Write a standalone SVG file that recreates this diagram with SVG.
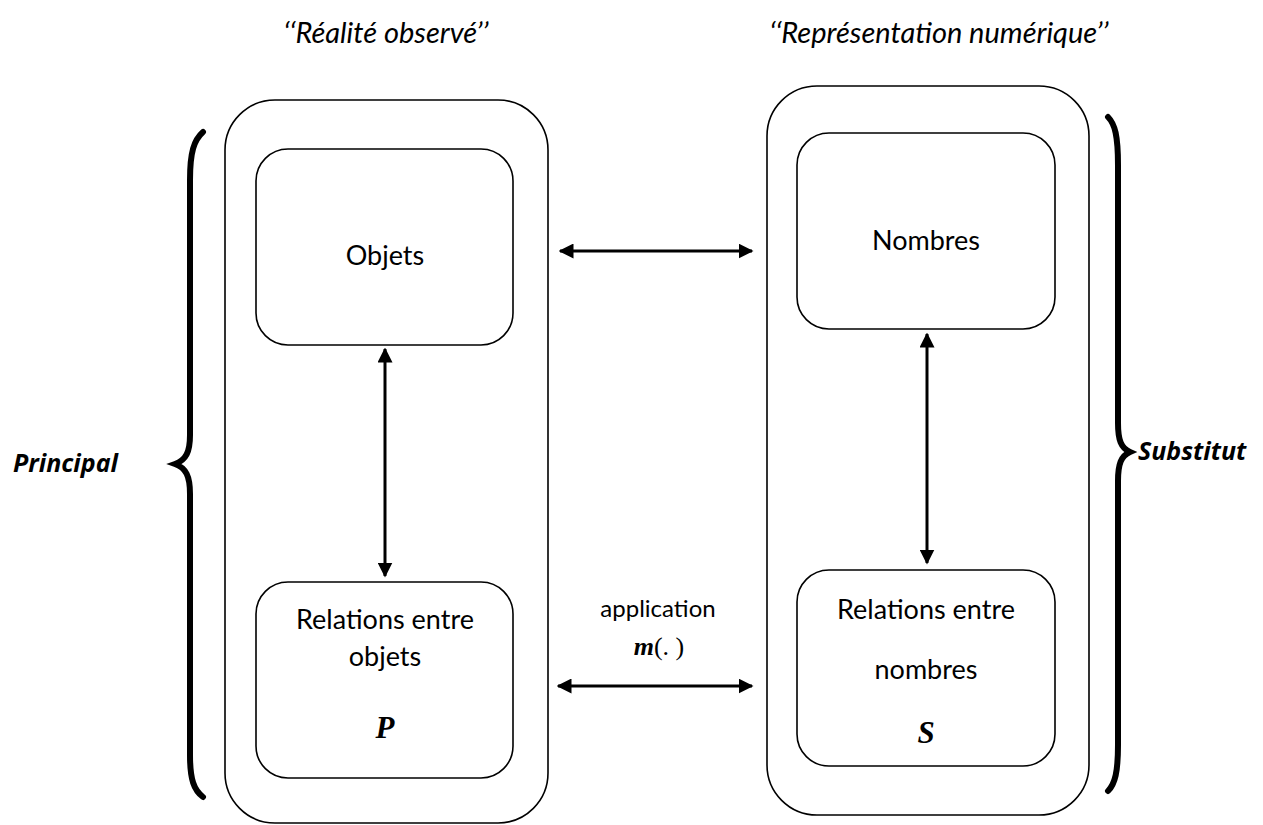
<svg xmlns="http://www.w3.org/2000/svg" width="1263" height="825" viewBox="0 0 1263 825">
<style>
.box{fill:none;stroke:#000;stroke-width:1.6}
.t{font-family:Lato,"Open Sans",sans-serif;font-size:27px;fill:#000;text-anchor:middle}
.hi{font-family:Lato,"Open Sans",sans-serif;font-style:italic;font-size:29px;fill:#000;text-anchor:middle}
.bi{font-family:"Open Sans",Lato,sans-serif;font-style:italic;font-weight:bold;font-size:25px;fill:#000}
.m{font-family:"Liberation Serif",serif;font-style:italic;font-weight:bold;font-size:31px;fill:#000;text-anchor:middle}
.c{stroke:#000;stroke-width:3;fill:none}
.br{stroke:#000;stroke-width:6;fill:none;stroke-linecap:round;stroke-linejoin:miter}
</style>
<defs>
<marker id="ah" viewBox="0 0 10 10" refX="9" refY="5" markerWidth="5" markerHeight="5" orient="auto-start-reverse" markerUnits="strokeWidth">
<path d="M0,0 L10,5 L0,10 z" fill="#000"/>
</marker>
</defs>
<text class="hi" x="386" y="43">‘‘Réalité observé’’</text>
<text class="hi" x="939" y="43">‘‘Représentation numérique’’</text>
<g id="left-outer"><rect class="box" x="225" y="100" width="323" height="723" rx="50"/></g>
<g id="objets"><rect class="box" x="256" y="149" width="257" height="196" rx="32"/><text class="t" x="385" y="265">Objets</text></g>
<g id="rel-objets"><rect class="box" x="256" y="582" width="257" height="196" rx="32"/><text class="t" x="385" y="629">Relations entre</text><text class="t" x="385" y="666">objets</text><text class="m" x="385" y="738">P</text></g>
<g id="right-outer"><rect class="box" x="767" y="86" width="322" height="729" rx="50"/></g>
<g id="nombres"><rect class="box" x="797" y="133" width="258" height="196" rx="32"/><text class="t" x="926" y="250">Nombres</text></g>
<g id="rel-nombres"><rect class="box" x="797" y="570" width="258" height="196" rx="32"/><text class="t" x="926" y="619">Relations entre</text><text class="t" x="926" y="679">nombres</text><text class="m" x="926" y="743">S</text></g>
<g id="principal"><path class="br" d="M203,132 C194,140 190,152 190,180 L190,435 C190,452 186,460 175,464 C186,468 190,476 190,494 L190,755 C190,780 194,790 203,797"/><text class="bi" x="13" y="472">Principal</text></g>
<g id="substitut"><path class="br" d="M1108,117 C1115,124 1118,136 1118,165 L1118,423 C1118,440 1121,448 1130,452 C1121,456 1118,464 1118,481 L1118,745 C1118,772 1115,784 1108,791"/><text class="bi" x="1138" y="460">Substitut</text></g>
<g id="connectors">
<line class="c" x1="560" y1="251" x2="752" y2="251" marker-start="url(#ah)" marker-end="url(#ah)"/>
<line class="c" x1="558" y1="686" x2="752" y2="686" marker-start="url(#ah)" marker-end="url(#ah)"/>
<line class="c" x1="385" y1="349" x2="385" y2="576" marker-start="url(#ah)" marker-end="url(#ah)"/>
<line class="c" x1="927" y1="334" x2="927" y2="563" marker-start="url(#ah)" marker-end="url(#ah)"/>
<text class="t" x="658" y="617" style="font-size:24px">application</text>
<text x="659" y="655" style="font-family:'Liberation Serif',serif;font-size:26px;text-anchor:middle"><tspan font-weight="bold" font-style="italic">m</tspan>(. )</text>
</g>
</svg>
